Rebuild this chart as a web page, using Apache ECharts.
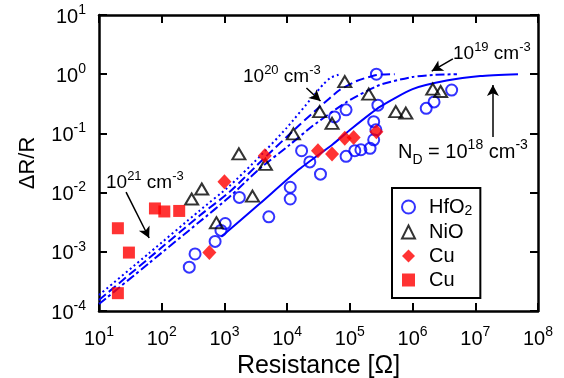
<!DOCTYPE html>
<html>
<head>
<meta charset="utf-8">
<script src="https://cdn.jsdelivr.net/npm/echarts@6/dist/echarts.min.js"></script>
<style>
  html, body { margin: 0; padding: 0; background: #fff; }
  #chart { width: 564px; height: 378px; }
</style>
</head>
<body>
<div id="chart"></div>
<script>
// measured points: [resistance (ohm), dR/R]
const hfo2 = [
  [275, 0.00055], [340, 0.00092], [710, 0.0015], [880, 0.0023], [1030, 0.003],
  [1730, 0.0083], [5100, 0.0039], [11200, 0.0123], [11200, 0.0078], [17000, 0.051],
  [23000, 0.033], [34000, 0.0205], [57000, 0.19], [87000, 0.25], [87000, 0.041],
  [120000, 0.051], [150000, 0.053], [210000, 0.056], [240000, 0.078], [240000, 0.158],
  [260000, 0.115], [265000, 1.0], [280000, 0.30], [1.65e6, 0.265], [2.2e6, 0.34],
  [4.2e6, 0.54]
];
const nio = [
  [300, 0.0078], [435, 0.0115], [745, 0.0031], [1700, 0.045], [2800, 0.0087],
  [4500, 0.030], [12600, 0.098], [33000, 0.233], [52000, 0.148], [83000, 0.75],
  [200000, 0.46], [540000, 0.233], [780000, 0.22], [2.1e6, 0.56], [2.8e6, 0.51]
];
const cuDiamond = [
  [575, 0.00097], [1000, 0.0153], [4400, 0.042], [31000, 0.051], [52000, 0.045],
  [83000, 0.083], [115000, 0.085], [265000, 0.107]
];
const cuSquare = [
  [20, 0.0025], [30, 0.00097], [78, 0.0054], [110, 0.0048], [190, 0.0049], [20, 0.0002]
];

// model curves (N_D in cm^-3)
const curve18 = [
  [890, 0.0018], [3600, 0.0064], [15700, 0.025], [53000, 0.065], [99000, 0.113],
  [300000, 0.28], [1.0e6, 0.56], [3.5e6, 0.78], [1.2e7, 0.93], [4.8e7, 1.0]
];
const curve19 = [
  [10, 0.000131], [63, 0.000646], [396, 0.00318], [1200, 0.00843], [3600, 0.0251],
  [10900, 0.0637], [25300, 0.133], [88700, 0.339], [298000, 0.658], [1.0e6, 0.90],
  [2.1e6, 0.97], [5.1e6, 1.0]
];
const curve20 = [
  [10, 0.000153], [63, 0.000785], [396, 0.00403], [1200, 0.0102], [4030, 0.0356],
  [15700, 0.139], [32800, 0.279], [68600, 0.54], [128000, 0.767], [267000, 0.97],
  [519000, 1.0]
];
const curve21 = [
  [10, 0.000186], [63, 0.00095], [396, 0.0049], [1200, 0.0129], [3600, 0.040],
  [9750, 0.123], [25300, 0.41], [38000, 0.68], [50000, 0.88], [66000, 0.98]
];

const xRange = [10, 1e8];
const yRange = [1e-4, 10];

const FONT = "'Liberation Sans', Arial, Helvetica, sans-serif";
const BLUE = '#0000ff';
const RED = '#ff0000';

const supRich = {
  b: { fontSize: 20, fontFamily: FONT, color: '#000', verticalAlign: 'bottom' },
  s: { fontSize: 14, fontFamily: FONT, color: '#000', verticalAlign: 'bottom', padding: [0, 0, 10, 0] }
};
const powLabel = (v) => '{b|10}{s|' + Math.round(Math.log10(v)) + '}';

const annRich = {
  b: { fontSize: 19, fontFamily: FONT, color: '#000', verticalAlign: 'bottom' },
  s: { fontSize: 13, fontFamily: FONT, color: '#000', verticalAlign: 'bottom', padding: [0, 0, 9, 0] }
};
// N_D label: base raised a little so the subscript can drop below it
const ndRich = {
  b: { fontSize: 20, fontFamily: FONT, color: '#000', verticalAlign: 'bottom', padding: [0, 0, 5, 0] },
  s: { fontSize: 14, fontFamily: FONT, color: '#000', verticalAlign: 'bottom', padding: [0, 0, 15, 0] },
  d: { fontSize: 14, fontFamily: FONT, color: '#000', verticalAlign: 'bottom' }
};

const frameAxis = (pos) => ({
  axisLine: { show: true, onZero: false, lineStyle: { color: '#000', width: 2.5 } },
  axisTick: { show: true, inside: true, length: 8, lineStyle: { color: '#000', width: 2 } },
  splitLine: { show: false },
  position: pos
});

const chart = echarts.init(document.getElementById('chart'));

const curveSeries = (name, data, dash) => ({
  name: name,
  type: 'line',
  data: data,
  smooth: 0.2,
  showSymbol: false,
  symbol: 'none',
  silent: true,
  z: 2,
  lineStyle: { color: BLUE, width: 2, type: dash }
});

chart.setOption({
  animation: false,
  backgroundColor: '#fff',
  grid: { left: 99, right: 26, top: 15, bottom: 67, outerBoundsMode: 'none', containLabel: false },
  xAxis: [
    Object.assign({
      type: 'log', logBase: 10, min: xRange[0], max: xRange[1], interval: 1,
      name: 'Resistance [Ω]', nameLocation: 'middle', nameGap: 41,
      nameTextStyle: { fontSize: 25, fontFamily: FONT, color: '#000' },
      axisLabel: { margin: 14, formatter: powLabel, rich: supRich }
    }, frameAxis('bottom')),
    Object.assign({
      type: 'log', logBase: 10, min: xRange[0], max: xRange[1], interval: 1,
      axisLabel: { show: false }
    }, frameAxis('top'))
  ],
  yAxis: [
    Object.assign({
      type: 'log', logBase: 10, min: yRange[0], max: yRange[1], interval: 1,
      name: 'ΔR/R', nameLocation: 'middle', nameGap: 60,
      nameTextStyle: { fontSize: 22, fontFamily: FONT, color: '#000' },
      axisLabel: { margin: 13, formatter: powLabel, rich: supRich }
    }, frameAxis('left')),
    Object.assign({
      type: 'log', logBase: 10, min: yRange[0], max: yRange[1], interval: 1,
      axisLabel: { show: false }
    }, frameAxis('right'))
  ],
  legend: {
    orient: 'vertical',
    left: 392, top: 188,
    padding: [9, 8, 8, 9],
    itemGap: 4,
    itemWidth: 13, itemHeight: 13,
    borderColor: '#000', borderWidth: 2, borderRadius: 0,
    data: ['HfO2', 'NiO', 'Cu', 'Cu '],
    formatter: (n) => n === 'HfO2' ? '{t|HfO}{sub|2}' : '{t|' + n.trim() + '}',
    textStyle: {
      fontSize: 20, fontFamily: FONT, color: '#000',
      rich: {
        t: { fontSize: 20, fontFamily: FONT, color: '#000', padding: [0, 0, 0, 9] },
        sub: { fontSize: 14, fontFamily: FONT, color: '#000', verticalAlign: 'top', padding: [8, 0, 0, 0] }
      }
    }
  },
  series: [
    curveSeries('n21', curve21, [2, 3]),
    curveSeries('n20', curve20, [9, 4]),
    curveSeries('n19', curve19, [9, 3, 3, 3]),
    curveSeries('n18', curve18, 'solid'),
    {
      name: 'HfO2', type: 'scatter', data: hfo2, z: 4,
      symbol: 'circle', symbolSize: 11,
      itemStyle: { color: 'rgba(0,0,0,0)', borderColor: BLUE, borderWidth: 2 }
    },
    {
      name: 'NiO', type: 'scatter', data: nio, z: 4,
      symbol: 'triangle', symbolSize: [13, 11],
      itemStyle: { color: 'rgba(0,0,0,0)', borderColor: '#000', borderWidth: 2 }
    },
    {
      name: 'Cu', type: 'scatter', data: cuDiamond, z: 5,
      symbol: 'diamond', symbolSize: [14, 15],
      itemStyle: { color: RED }
    },
    {
      name: 'Cu ', type: 'scatter', data: cuSquare, z: 5,
      symbol: 'rect', symbolSize: 12,
      itemStyle: { color: RED }
    },
    {
      // annotation arrows
      name: 'arrows', type: 'line', data: [], silent: true,
      markLine: {
        silent: true,
        symbol: ['none', 'arrow'],
        symbolSize: [9, 11],
        label: { show: false },
        lineStyle: { color: '#000', width: 1.5, type: 'solid' },
        data: [
          [{ coord: [27, 0.0102] }, { coord: [63, 0.00171] }],
          [{ coord: [20300, 0.585] }, { coord: [34000, 0.352] }],
          [{ coord: [4.39e6, 1.81] }, { coord: [2.02e6, 1.13] }],
          [{ coord: [1.91e7, 0.087] }, { coord: [1.91e7, 0.66] }]
        ]
      }
    }
  ],
  graphic: [
    { type: 'text', x: 106, y: 181, style: { text: '{b|10}{s|21}{b| cm}{s|-3}', rich: annRich, verticalAlign: 'middle' } },
    { type: 'text', x: 243, y: 75, style: { text: '{b|10}{s|20}{b| cm}{s|-3}', rich: annRich, verticalAlign: 'middle' } },
    { type: 'text', x: 453, y: 52, style: { text: '{b|10}{s|19}{b| cm}{s|-3}', rich: annRich, verticalAlign: 'middle' } },
    { type: 'text', x: 398, y: 153, style: { text: '{b|N}{d|D}{b| = 10}{s|18}{b| cm}{s|-3}', rich: ndRich, verticalAlign: 'middle' } }
  ]
});
</script>
</body>
</html>
